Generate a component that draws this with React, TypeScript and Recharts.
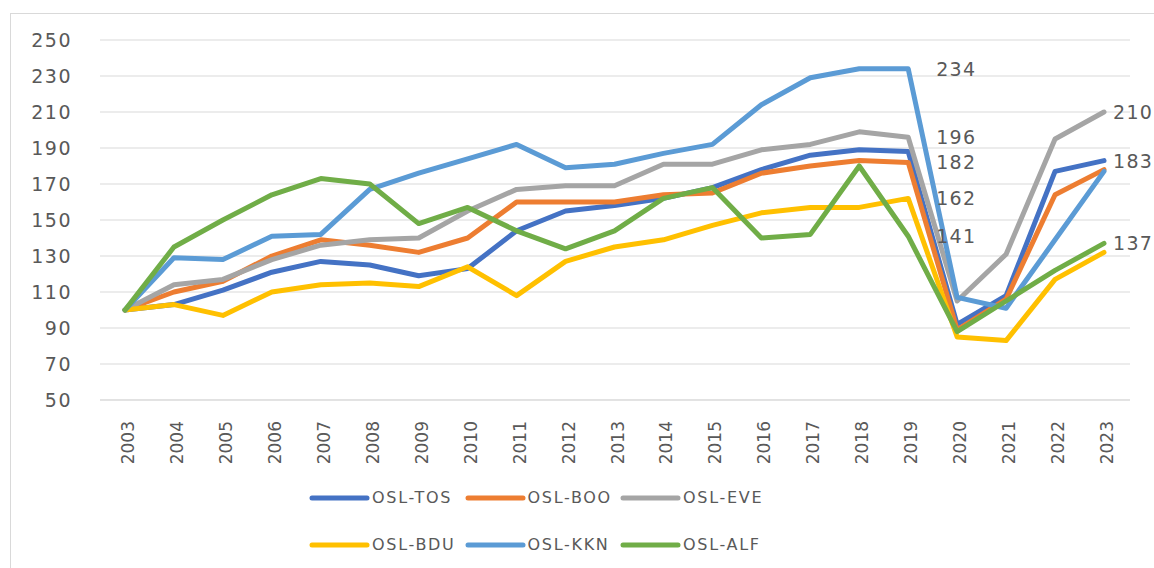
import React from "react";
import { LineChart, Line, XAxis, YAxis, CartesianGrid, LabelList } from "recharts";

const years = ["2003","2004","2005","2006","2007","2008","2009","2010","2011","2012","2013","2014","2015","2016","2017","2018","2019","2020","2021","2022","2023"];
const tos = [100,103,111,121,127,125,119,123,144,155,158,162,168,178,186,189,188,92,108,177,183];
const boo = [100,110,116,130,139,136,132,140,160,160,160,164,165,176,180,183,182,89,106,164,178];
const eve = [100,114,117,128,136,139,140,155,167,169,169,181,181,189,192,199,196,105,131,195,210];
const bdu = [100,103,97,110,114,115,113,124,108,127,135,139,147,154,157,157,162,85,83,117,132];
const kkn = [100,129,128,141,142,167,176,184,192,179,181,187,192,214,229,234,234,107,101,139,177];
const alf = [100,135,150,164,173,170,148,157,144,134,144,162,168,140,142,180,141,88,105,122,137];
const yTicks = [50,70,90,110,130,150,170,190,210,230,250];

const series = [
  { key: "tos", name: "OSL-TOS", values: tos, color: "#4472C4", labels: [20] },
  { key: "boo", name: "OSL-BOO", values: boo, color: "#ED7D31", labels: [16] },
  { key: "eve", name: "OSL-EVE", values: eve, color: "#A5A5A5", labels: [16, 20] },
  { key: "bdu", name: "OSL-BDU", values: bdu, color: "#FFC000", labels: [16] },
  { key: "kkn", name: "OSL-KKN", values: kkn, color: "#5B9BD5", labels: [16] },
  { key: "alf", name: "OSL-ALF", values: alf, color: "#70AD47", labels: [16, 20] },
];

const data = years.map((y, i) => {
  const row: any = { year: y };
  series.forEach((s) => (row[s.key] = s.values[i]));
  return row;
});

const FONT = "'DejaVu Sans', sans-serif";
const TXT = "#595959";

const XTick = (props: any) => {
  const { x, y, payload } = props;
  return (
    <text
      transform={`translate(${x + 9},${y + 13}) rotate(-90)`}
      textAnchor="end"
      fontFamily={FONT}
      fontSize={17}
      fill={TXT}
    >
      {payload.value}
    </text>
  );
};

const makeLabel = (indices: number[]) => (props: any) => {
  const { x, y, value, index } = props;
  if (!indices.includes(index)) return null;
  const dx = index === 16 ? 28 : 9;
  return (
    <text
      x={x + dx}
      y={y}
      dominantBaseline="central"
      textAnchor="start"
      fontFamily={FONT}
      fontSize={19}
      letterSpacing={1.3}
      fill={TXT}
    >
      {value}
    </text>
  );
};

export default function App() {
  return (
    <div style={{ position: "absolute", left: 0, top: 0, width: 1154, height: 568, background: "#fff", overflow: "hidden" }}>
      <div
        style={{
          position: "absolute",
          left: 10,
          top: 13,
          width: 1200,
          height: 600,
          borderLeft: "1px solid #d9d9d9",
          borderTop: "1px solid #d9d9d9",
        }}
      />
      <div style={{ position: "absolute", left: 0, top: 0 }}>
        <LineChart width={1154} height={568} data={data} margin={{ top: 40, right: 24, left: 0, bottom: 108 }}>
          <CartesianGrid vertical={false} stroke="#d9d9d9" strokeWidth={1} />
          <XAxis
            dataKey="year"
            interval={0}
            height={60}
            padding={{ left: 25, right: 26 }}
            axisLine={{ stroke: "#d9d9d9" }}
            tickLine={false}
            tick={<XTick />}
          />
          <YAxis
            domain={[50, 250]}
            ticks={yTicks}
            width={100}
            axisLine={false}
            tickLine={false}
            tickSize={0}
            tickMargin={28}
            tick={{ fontFamily: FONT, fontSize: 19, fill: TXT, letterSpacing: 1.5 } as any}
          />
          {series.map((s) => (
            <Line
              key={s.key}
              type="linear"
              dataKey={s.key}
              name={s.name}
              stroke={s.color}
              strokeWidth={5}
              strokeLinecap="round"
              strokeLinejoin="round"
              dot={false}
              activeDot={false}
              isAnimationActive={false}
            >
              <LabelList dataKey={s.key} content={makeLabel(s.labels)} />
            </Line>
          ))}
        </LineChart>
      </div>
      <div
        style={{
          position: "absolute",
          left: 309,
          top: 485,
          display: "grid",
          gridTemplateColumns: "155.5px 155.5px 155.5px",
          rowGap: 21,
        }}
      >
        {series.map((s) => (
          <div key={s.key} style={{ display: "flex", alignItems: "center", height: 26 }}>
            <svg width={61} height={10} style={{ display: "block" }}>
              <line x1={3} y1={5} x2={58} y2={5} stroke={s.color} strokeWidth={5} strokeLinecap="round" />
            </svg>
            <span style={{ fontFamily: FONT, fontSize: 16, letterSpacing: 1.7, color: TXT, marginLeft: 2, lineHeight: "26px" }}>
              {s.name}
            </span>
          </div>
        ))}
      </div>
    </div>
  );
}
